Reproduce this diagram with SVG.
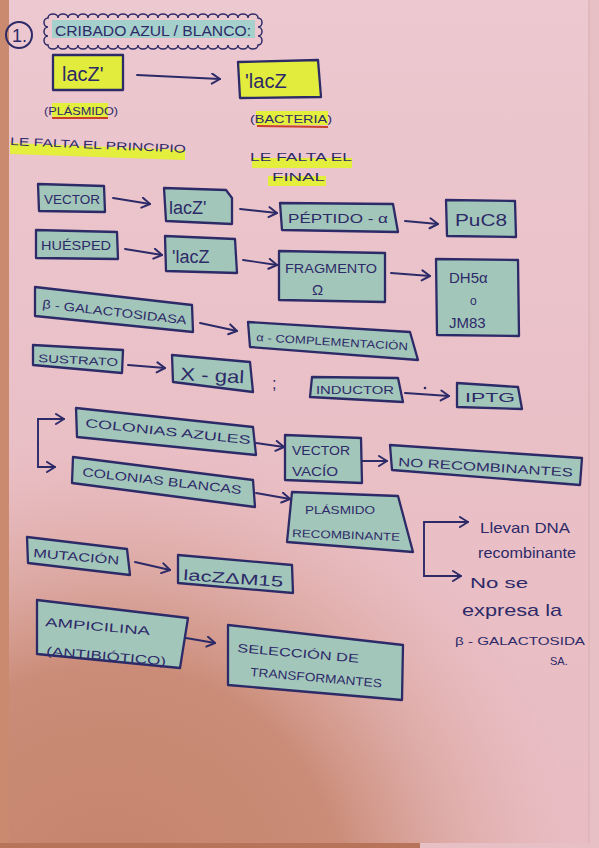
<svg xmlns="http://www.w3.org/2000/svg" width="599" height="848" viewBox="0 0 599 848">
<defs>
<linearGradient id="paper" x1="0" y1="0" x2="0" y2="1">
<stop offset="0" stop-color="#ecc8d0"/>
<stop offset="0.5" stop-color="#eac0c7"/>
<stop offset="1" stop-color="#e8bcc2"/>
</linearGradient>
<radialGradient id="warm" cx="110" cy="900" r="470" gradientUnits="userSpaceOnUse">
<stop offset="0" stop-color="#c4826a" stop-opacity="1"/>
<stop offset="0.5" stop-color="#c98a74" stop-opacity="0.95"/>
<stop offset="0.78" stop-color="#d8a095" stop-opacity="0.45"/>
<stop offset="1" stop-color="#e2b0b0" stop-opacity="0"/>
</radialGradient>
<marker id="ah" markerUnits="userSpaceOnUse" markerWidth="14" markerHeight="14" refX="10" refY="6" orient="auto">
<path d="M2,1 L10,6 L2,11" fill="none" stroke="#2d2a68" stroke-width="2" stroke-linecap="round" stroke-linejoin="round"/>
</marker>
<style>
.box{fill:#a3c6bb;stroke:#2d2a68;stroke-width:2.3;stroke-linejoin:round}
.ybox{fill:#e2ec3c;stroke:#2d2a68;stroke-width:2.3;stroke-linejoin:round}
.t{font-family:"Liberation Sans",Arial,sans-serif;fill:#2d2a68}
.h{font-family:"Liberation Sans",Arial,sans-serif;fill:#2d2a68}
.arrow{fill:none;stroke:#2d2a68;stroke-width:1.9;stroke-linecap:round;marker-end:url(#ah)}
.hl{fill:#e4ee3c}
.red{stroke:#c8402a;stroke-width:2;fill:none}
</style>
</defs>

<rect x="0" y="0" width="599" height="848" fill="#e6c0c4"/>
<rect x="0" y="0" width="9" height="848" fill="#c98a70"/>
<rect x="0" y="843" width="420" height="5" fill="#b8745a"/>
<rect x="9" y="0" width="580" height="843" fill="url(#paper)"/>
<rect x="9" y="0" width="580" height="843" fill="url(#warm)"/>
<line x1="589" y1="0" x2="589" y2="843" stroke="#d9aeb0" stroke-width="1"/>

<g id="title">
<circle cx="19" cy="35" r="13" fill="none" stroke="#2d2a68" stroke-width="2"/>
<text class="t" x="12" y="42" font-size="18">1.</text>
<rect x="52" y="20" width="203" height="18" fill="#a6d0cc"/>
<path d="M48,18 a5,4 0 0 1 10,0 a5,4 0 0 1 10,0 a5,4 0 0 1 10,0 a5,4 0 0 1 10,0 a5,4 0 0 1 10,0 a5,4 0 0 1 10,0 a5,4 0 0 1 10,0 a5,4 0 0 1 10,0 a5,4 0 0 1 10,0 a5,4 0 0 1 10,0 a5,4 0 0 1 10,0 a5,4 0 0 1 10,0 a5,4 0 0 1 10,0 a5,4 0 0 1 10,0 a5,4 0 0 1 10,0 a5,4 0 0 1 10,0 a5,4 0 0 1 10,0 a5,4 0 0 1 10,0 a5,4 0 0 1 10,0 a5,4 0 0 1 10,0 a5,4 0 0 1 10,0 a4,4.5 0 0 1 0,9 a4,4.5 0 0 1 0,9 a4,4.5 0 0 1 0,9 a5,4 0 0 1 -10,0 a5,4 0 0 1 -10,0 a5,4 0 0 1 -10,0 a5,4 0 0 1 -10,0 a5,4 0 0 1 -10,0 a5,4 0 0 1 -10,0 a5,4 0 0 1 -10,0 a5,4 0 0 1 -10,0 a5,4 0 0 1 -10,0 a5,4 0 0 1 -10,0 a5,4 0 0 1 -10,0 a5,4 0 0 1 -10,0 a5,4 0 0 1 -10,0 a5,4 0 0 1 -10,0 a5,4 0 0 1 -10,0 a5,4 0 0 1 -10,0 a5,4 0 0 1 -10,0 a5,4 0 0 1 -10,0 a5,4 0 0 1 -10,0 a5,4 0 0 1 -10,0 a5,4 0 0 1 -10,0 a4,4.5 0 0 1 0,-9 a4,4.5 0 0 1 0,-9 a4,4.5 0 0 1 0,-9 Z" fill="none" stroke="#2d2a68" stroke-width="1.5"/>
<text class="t" x="55" y="36" font-size="14" textLength="196" lengthAdjust="spacingAndGlyphs">CRIBADO   AZUL / BLANCO:</text>
</g>

<g id="lacz-plasmido">
<rect class="ybox" x="53" y="55" width="70" height="35"/>
<text class="h" x="62" y="81" font-size="20">lacZ'</text>
</g>
<g id="lacz-bacteria">
<polygon class="ybox" points="238,62 318,60 321,97 240,98"/>
<text class="h" x="245" y="88" font-size="20">'lacZ</text>
</g>
<g id="label-plasmido">
<rect class="hl" x="52" y="103" width="56" height="14"/>
<line class="red" x1="52" y1="118" x2="108" y2="118"/>
<text class="t" x="44" y="115" font-size="11" textLength="74" lengthAdjust="spacingAndGlyphs">(PLÁSMIDO)</text>
</g>
<g id="label-bacteria">
<rect class="hl" x="256" y="111" width="72" height="14"/>
<line class="red" x1="257" y1="126" x2="328" y2="127"/>
<text class="t" x="250" y="123" font-size="11" textLength="82" lengthAdjust="spacingAndGlyphs">(BACTERIA)</text>
</g>
<g id="note-principio">
<polygon class="hl" points="10,143 185,150 185,160 10,154"/>
<text class="t" x="10" y="145" font-size="11" textLength="176" lengthAdjust="spacingAndGlyphs" transform="rotate(2.5,10,145)">LE FALTA  EL  PRINCIPIO</text>
</g>
<g id="note-final">
<rect class="hl" x="252" y="158" width="100" height="10"/>
<text class="t" x="250" y="161" font-size="11" textLength="102" lengthAdjust="spacingAndGlyphs">LE  FALTA  EL</text>
<rect class="hl" x="268" y="176" width="58" height="10"/>
<text class="t" x="272" y="181" font-size="11" textLength="53" lengthAdjust="spacingAndGlyphs">FINAL</text>
</g>

<g id="vector">
<polygon class="box" points="38,184 104,186 105,212 39,211"/>
<text class="t" x="44" y="204" font-size="12" textLength="56" lengthAdjust="spacingAndGlyphs">VECTOR</text>
</g>
<g id="lacz1">
<polygon class="box" points="164,188 226,190 232,198 232,224 166,221"/>
<text class="h" x="169" y="214" font-size="18">lacZ'</text>
</g>
<g id="peptido">
<polygon class="box" points="280,203 393,204 398,232 282,230"/>
<text class="t" x="288" y="223" font-size="12" textLength="100" lengthAdjust="spacingAndGlyphs">PÉPTIDO - α</text>
</g>
<g id="puc8">
<polygon class="box" points="446,200 515,201 516,237 447,236"/>
<text class="t" x="455" y="226" font-size="17" textLength="52" lengthAdjust="spacingAndGlyphs">PuC8</text>
</g>

<g id="huesped">
<polygon class="box" points="36,230 117,232 118,259 36,258"/>
<text class="t" x="41" y="250" font-size="12" textLength="70" lengthAdjust="spacingAndGlyphs">HUÉSPED</text>
</g>
<g id="lacz2">
<polygon class="box" points="165,236 235,239 237,273 166,271"/>
<text class="h" x="172" y="263" font-size="18">'lacZ</text>
</g>
<g id="fragmento">
<polygon class="box" points="279,251 385,253 385,302 279,300"/>
<text class="t" x="285" y="273" font-size="12" textLength="92" lengthAdjust="spacingAndGlyphs">FRAGMENTO</text>
<text class="t" x="312" y="295" font-size="15">Ω</text>
</g>
<g id="dh5">
<polygon class="box" points="436,259 518,260 519,336 437,335"/>
<text class="t" x="449" y="283" font-size="15">DH5α</text>
<text class="t" x="470" y="305" font-size="12">o</text>
<text class="t" x="449" y="328" font-size="15">JM83</text>
</g>

<g id="galactosidasa">
<polygon class="box" points="35,287 192,305 193,332 35,316"/>
<text class="t" x="42" y="308" font-size="12" textLength="145" lengthAdjust="spacingAndGlyphs" transform="rotate(6.5,42,308)">β - GALACTOSIDASA</text>
</g>
<g id="complementacion">
<polygon class="box" points="248,322 410,332 418,360 250,347"/>
<text class="t" x="256" y="341" font-size="11" textLength="152" lengthAdjust="spacingAndGlyphs" transform="rotate(3.5,256,341)">α - COMPLEMENTACIÓN</text>
</g>

<g id="sustrato">
<polygon class="box" points="33,345 123,350 122,373 33,365"/>
<text class="t" x="38" y="362" font-size="11" textLength="80" lengthAdjust="spacingAndGlyphs" transform="rotate(3,38,362)">SUSTRATO</text>
</g>
<g id="xgal">
<polygon class="box" points="172,355 250,362 253,392 173,382"/>
<text class="h" x="180" y="380" font-size="18" textLength="64" lengthAdjust="spacingAndGlyphs" transform="rotate(3,180,380)">X - gal</text>
</g>
<text class="t" x="272" y="389" font-size="16">;</text>
<g id="inductor">
<polygon class="box" points="312,377 398,378 403,402 310,397"/>
<text class="t" x="316" y="394" font-size="11" textLength="78" lengthAdjust="spacingAndGlyphs">INDUCTOR</text>
</g>
<g id="iptg">
<polygon class="box" points="457,383 518,387 522,409 457,407"/>
<text class="t" x="465" y="402" font-size="13" textLength="50" lengthAdjust="spacingAndGlyphs">IPTG</text>
</g>

<g id="colonias-azules">
<polygon class="box" points="76,408 253,427 256,455 77,437"/>
<text class="t" x="85" y="427" font-size="12" textLength="166" lengthAdjust="spacingAndGlyphs" transform="rotate(6,85,427)">COLONIAS     AZULES</text>
</g>
<g id="colonias-blancas">
<polygon class="box" points="73,457 253,480 255,507 72,483"/>
<text class="t" x="82" y="476" font-size="12" textLength="160" lengthAdjust="spacingAndGlyphs" transform="rotate(6.5,82,476)">COLONIAS   BLANCAS</text>
</g>
<g id="vector-vacio">
<polygon class="box" points="285,435 361,438 362,483 285,480"/>
<text class="t" x="292" y="455" font-size="12" textLength="58" lengthAdjust="spacingAndGlyphs">VECTOR</text>
<text class="t" x="292" y="476" font-size="12" textLength="46" lengthAdjust="spacingAndGlyphs">VACÍO</text>
</g>
<g id="no-recombinantes">
<polygon class="box" points="390,445 582,458 580,485 392,470"/>
<text class="t" x="398" y="466" font-size="12" textLength="175" lengthAdjust="spacingAndGlyphs" transform="rotate(3.5,398,466)">NO  RECOMBINANTES</text>
</g>
<g id="plasmido-recombinante">
<polygon class="box" points="292,492 398,496 413,552 287,542"/>
<text class="t" x="305" y="514" font-size="11" textLength="70" lengthAdjust="spacingAndGlyphs">PLÁSMIDO</text>
<text class="t" x="292" y="537" font-size="11" textLength="108" lengthAdjust="spacingAndGlyphs" transform="rotate(2,292,537)">RECOMBINANTE</text>
</g>
<g id="nota-llevan">
<text class="h" x="480" y="533" font-size="15" textLength="90" lengthAdjust="spacingAndGlyphs">Llevan DNA</text>
<text class="h" x="478" y="558" font-size="14" textLength="98" lengthAdjust="spacingAndGlyphs">recombinante</text>
</g>
<g id="nota-no-expresa">
<text class="h" x="470" y="588" font-size="15" textLength="58" lengthAdjust="spacingAndGlyphs">No  se</text>
<text class="h" x="462" y="616" font-size="17" textLength="100" lengthAdjust="spacingAndGlyphs">expresa  la</text>
<text class="t" x="455" y="645" font-size="11" textLength="130" lengthAdjust="spacingAndGlyphs">β - GALACTOSIDA</text>
<text class="t" x="550" y="665" font-size="11">SA.</text>
</g>

<g id="mutacion">
<polygon class="box" points="27,537 127,549 130,575 28,563"/>
<text class="t" x="33" y="557" font-size="12" textLength="86" lengthAdjust="spacingAndGlyphs" transform="rotate(5,33,557)">MUTACIÓN</text>
</g>
<g id="laczm15">
<polygon class="box" points="178,555 292,565 293,593 178,583"/>
<text class="h" x="183" y="580" font-size="15" textLength="100" lengthAdjust="spacingAndGlyphs" transform="rotate(4,183,580)">lacZΔM15</text>
</g>
<g id="ampicilina">
<polygon class="box" points="37,600 188,618 180,668 37,654"/>
<text class="t" x="45" y="626" font-size="12" textLength="105" lengthAdjust="spacingAndGlyphs" transform="rotate(5,45,626)">AMPICILINA</text>
<text class="t" x="46" y="655" font-size="12" textLength="120" lengthAdjust="spacingAndGlyphs" transform="rotate(5,46,655)">(ANTIBIÓTICO)</text>
</g>
<g id="seleccion">
<polygon class="box" points="228,625 403,645 402,700 228,685"/>
<text class="t" x="237" y="652" font-size="12" textLength="122" lengthAdjust="spacingAndGlyphs" transform="rotate(5,237,652)">SELECCIÓN    DE</text>
<text class="t" x="250" y="676" font-size="12" textLength="132" lengthAdjust="spacingAndGlyphs" transform="rotate(5,250,676)">TRANSFORMANTES</text>
</g>

<g id="connectors">
<path class="arrow" d="M137,75 L220,79"/>
<path class="arrow" d="M113,198 L150,204"/>
<path class="arrow" d="M240,209 L277,213"/>
<path class="arrow" d="M405,221 L438,224"/>
<path class="arrow" d="M125,249 L162,255"/>
<path class="arrow" d="M243,260 L277,265"/>
<path class="arrow" d="M391,273 L430,276"/>
<path class="arrow" d="M200,323 L237,331"/>
<path class="arrow" d="M128,365 L165,368"/>
<path class="arrow" d="M405,393 L449,396"/>
<circle cx="425" cy="388" r="1.3" fill="#2d2a68"/>
<path class="arrow" d="M38,443 L38,419 L64,419"/>
<path class="arrow" d="M38,443 L38,467 L55,467"/>
<path class="arrow" d="M256,443 L284,447"/>
<path class="arrow" d="M362,461 L387,461" stroke-width="3"/>
<path class="arrow" d="M256,493 L290,499"/>
<path class="arrow" d="M424,548 L424,522 L468,522"/>
<path class="arrow" d="M424,548 L424,576 L461,576"/>
<path class="arrow" d="M135,562 L170,570"/>
<path class="arrow" d="M186,638 L215,643"/>
</g>
</svg>
